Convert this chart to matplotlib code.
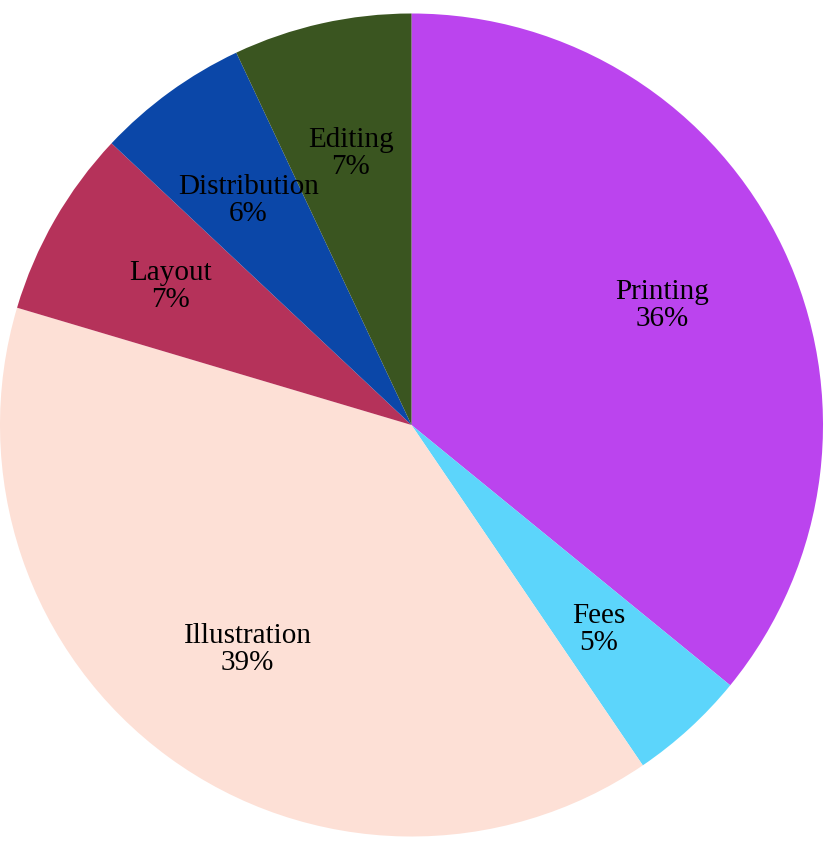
import matplotlib
matplotlib.use("Agg")
import matplotlib.pyplot as plt

categories = ["Printing", "Fees", "Illustration", "Layout", "Distribution", "Editing"]
values = [35.9, 4.6, 39.1, 7.4, 6.0, 7.0]
colors = ["#BB44EE", "#5CD5FB", "#FDE0D6", "#B5325A", "#0B47A8", "#3A5520"]

W, H = 836, 848
fig = plt.figure(figsize=(W / 100, H / 100), dpi=100)
ax = fig.add_axes([0, 0, 1, 1])

r_px = 411.5
cx, cy = 411.5, 425.0  # from top-left

labels = [f"{c}\n{round(v):.0f}%" for c, v in zip(categories, values)]
wedges, texts = ax.pie(values, colors=colors, startangle=90, counterclock=False,
                       radius=1.0, labels=labels, labeldistance=0.675,
                       textprops=dict(family="Liberation Serif", fontsize=21,
                                      color="black", ha="center", va="center",
                                      linespacing=1.05))
for t in texts:
    t.set_ha("center")
    t.set_va("center")

ax.set_xlim(-cx / r_px, (W - cx) / r_px)
ax.set_ylim(-(H - cy) / r_px, cy / r_px)
ax.set_aspect("auto")
ax.axis("off")
fig.savefig("out.png", dpi=100)
